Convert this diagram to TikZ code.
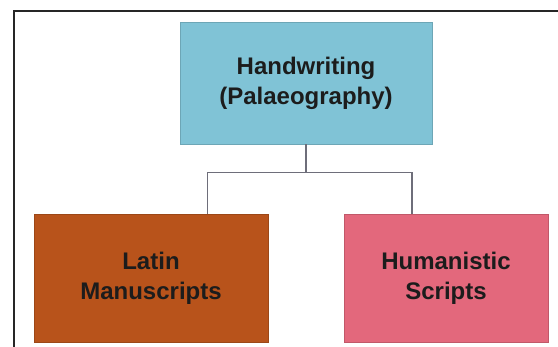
\documentclass[tikz,border=0pt]{standalone}
\usepackage{fontspec}
\setmainfont{Liberation Sans}
\usetikzlibrary{calc}

\definecolor{topblue}{HTML}{80C3D6}
\definecolor{latinbrown}{HTML}{B8531B}
\definecolor{humanpink}{HTML}{E3687C}
\definecolor{linkgray}{HTML}{6E6E7A}
\definecolor{inktext}{HTML}{1C1C1C}

\tikzset{
  topic/.style={draw=#1!85!black, line width=0.6pt, fill=#1, inner sep=0pt,
    align=center, text=inktext, font=\bfseries\fontsize{24}{30}\selectfont},
  link/.style={draw=linkgray, line width=1.4pt}
}

\begin{document}
\begin{tikzpicture}[x=1pt, y=-1pt]
    \useasboundingbox (0,0) rectangle (558,347);
    \fill[white] (0,0) rectangle (558,347);

    % outer frame
    \draw[line width=2pt, black!85] (558,11) -- (14,11) -- (14,347);

    \node (palaeo) at (306,83)[topic=topblue, minimum width=252pt, minimum height=122pt]
      {Handwriting\\(Palaeography)};
    \node (latin) at (151,278)[topic=latinbrown, minimum width=234pt, minimum height=128pt]
      {Latin\\Manuscripts};
    \node (humanist) at (446,278)[topic=humanpink, minimum width=204pt, minimum height=128pt]
      {Humanistic\\Scripts};

    \coordinate (fork) at ($(palaeo.south)+(0,28)$);
    \coordinate (latintop) at ($(latin.north west)!0.74!(latin.north east)$);
    \coordinate (humantop) at ($(humanist.north west)!0.333!(humanist.north east)$);

    \draw[link] (palaeo.south) -- (fork);
    \draw[link] (fork) -| (latintop);
    \draw[link] (fork) -| (humantop);
\end{tikzpicture}
\end{document}
